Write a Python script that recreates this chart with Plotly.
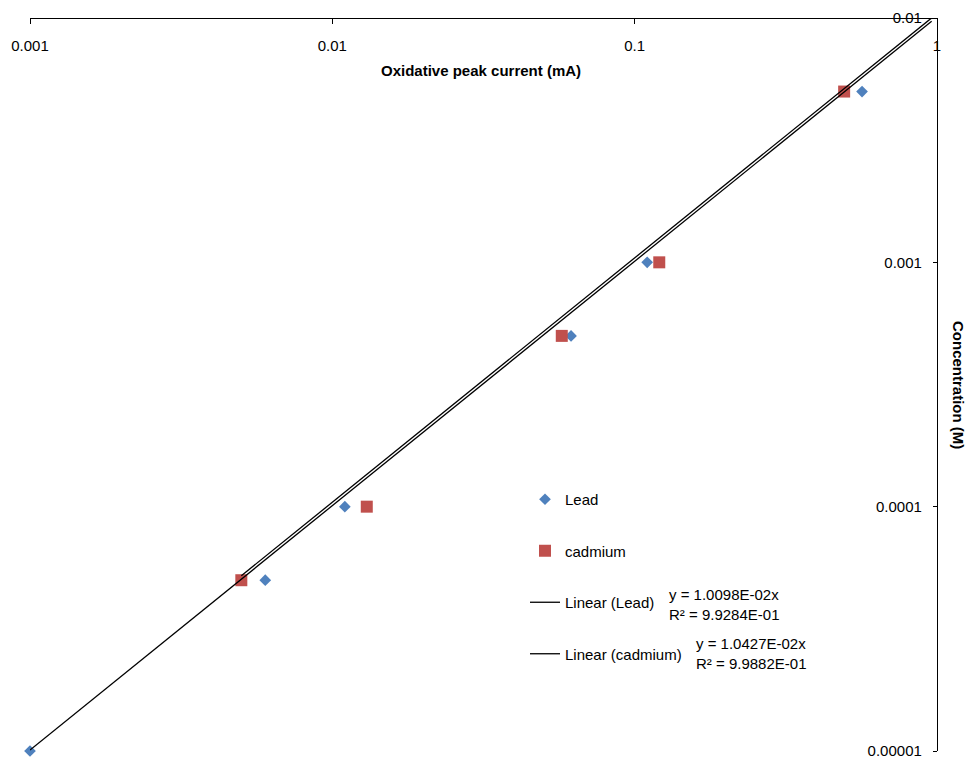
import plotly.graph_objects as go

# ---- data ----
lead_x = [0.001, 0.006, 0.011, 0.0616, 0.110, 0.565, 0.96]
lead_y = [0.00001, 0.00005, 0.0001, 0.0005, 0.001, 0.005, 0.01]
cd_x = [0.005, 0.013, 0.0574, 0.1206, 0.493, 0.96]
cd_y = [0.00005, 0.0001, 0.0005, 0.001, 0.005, 0.01]
lead_slope = 1.0098e-02
lead_r2 = "9.9284E-01"
cd_slope = 1.0427e-02
cd_r2 = "9.9882E-01"
x_ticks = [0.001, 0.01, 0.1, 1]
x_tick_text = ["0.001", "0.01", "0.1", "1"]
y_ticks = [0.00001, 0.0001, 0.001, 0.01]
y_tick_text = ["0.00001", "0.0001", "0.001", "0.01"]

W, H = 968, 757
L, R, T, B = 30, 937, 18, 751  # plot area in window pixels
FONT = "Liberation Sans, Arial, sans-serif"


def px(x):
    return (x - L) / (R - L)


def py(y):
    return (B - y) / (B - T)


fig = go.Figure()
fig.add_trace(go.Scatter(x=lead_x, y=lead_y, mode="markers", name="Lead",
                         legendgroup="a",
                         marker=dict(symbol="diamond", size=9, color="#4F81BD"),
                         cliponaxis=False))
fig.add_trace(go.Scatter(x=cd_x, y=cd_y, mode="markers", name="cadmium",
                         legendgroup="b",
                         marker=dict(symbol="square", size=12, color="#C0504D"),
                         cliponaxis=False))
lx = [min(lead_x), max(lead_x)]
fig.add_trace(go.Scatter(x=lx, y=[lead_slope * v for v in lx], mode="lines",
                         name="Linear (Lead)", legendgroup="c",
                         line=dict(color="black", width=1.3), cliponaxis=False))
cx = [min(cd_x), max(cd_x)]
fig.add_trace(go.Scatter(x=cx, y=[cd_slope * v for v in cx], mode="lines",
                         name="Linear (cadmium)", legendgroup="d",
                         line=dict(color="black", width=1.3), cliponaxis=False))

annotations = [
    dict(text="<b>Oxidative peak current (mA)</b>", x=px(481), y=py(70),
         xref="paper", yref="paper", xanchor="center", yanchor="middle",
         showarrow=False, font=dict(size=15, family=FONT, color="black")),
    dict(text="<b>Concentration (M)</b>", x=px(959), y=py(385), textangle=90,
         xref="paper", yref="paper", xanchor="center", yanchor="middle",
         showarrow=False, font=dict(size=15, family=FONT, color="black")),
    dict(text="y = %.4fE-02x<br>R² = %s" % (lead_slope * 100, lead_r2),
         x=px(667), y=py(604), xref="paper", yref="paper", xanchor="left",
         yanchor="middle", align="left", showarrow=False,
         font=dict(size=15, family=FONT, color="black")),
    dict(text="y = %.4fE-02x<br>R² = %s" % (cd_slope * 100, cd_r2),
         x=px(694), y=py(653), xref="paper", yref="paper", xanchor="left",
         yanchor="middle", align="left", showarrow=False,
         font=dict(size=15, family=FONT, color="black")),
]

fig.update_layout(
    width=W, height=H,
    margin=dict(l=L, r=W - R, t=T, b=H - B, autoexpand=False),
    paper_bgcolor="white", plot_bgcolor="white",
    font=dict(family=FONT, size=15, color="black"),
    xaxis=dict(type="log", range=[-3, 0], side="bottom", anchor="free",
               position=1, automargin=False, showgrid=False,
               zeroline=False, showline=True, linecolor="black", linewidth=1.3,
               ticks="outside", ticklen=5, tickcolor="black",
               ticklabelstandoff=9, ticklabeloverflow="allow",
               tickvals=x_ticks, ticktext=x_tick_text),
    yaxis=dict(type="log", range=[-5, -2], side="left", anchor="free",
               position=1, automargin=False, showgrid=False,
               zeroline=False, showline=True, linecolor="black", linewidth=1.3,
               ticks="outside", ticklen=4, tickcolor="black",
               ticklabelstandoff=8, ticklabeloverflow="allow",
               tickvals=y_ticks, ticktext=y_tick_text),
    showlegend=True,
    legend=dict(x=px(525), y=py(483), xanchor="left", yanchor="top",
                bgcolor="rgba(0,0,0,0)", traceorder="grouped",
                tracegroupgap=29, font=dict(size=15, family=FONT)),
    annotations=annotations,
)

fig.write_html(
    "out.html",
    config={"displayModeBar": False},
    post_script="document.body.style.margin='0';"
                "document.body.style.overflow='hidden';",
)
